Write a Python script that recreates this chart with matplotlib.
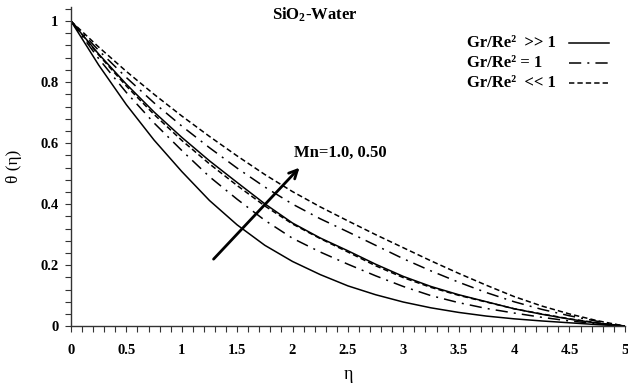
import numpy as np
import matplotlib
matplotlib.use('Agg')
import matplotlib.pyplot as plt
from matplotlib.lines import Line2D
from matplotlib.ticker import MultipleLocator

plt.rcParams['font.family'] = ['Liberation Serif', 'DejaVu Serif']
plt.rcParams['font.weight'] = 'bold'
plt.rcParams['mathtext.default'] = 'regular'

# values
eta = [0, 0.25, 0.5, 0.75, 1.0, 1.25, 1.5, 1.75, 2.0, 2.25, 2.5,
       2.75, 3.0, 3.25, 3.5, 3.75, 4.0, 4.25, 4.5, 4.75, 5.0]

# Gr/Re^2 >> 1 (solid)
solid_mn10 = [1.0, 0.856, 0.726, 0.610, 0.507, 0.412, 0.332, 0.265, 0.212, 0.169, 0.132,
              0.103, 0.079, 0.060, 0.045, 0.033, 0.024, 0.017, 0.011, 0.005, 0.0]
solid_mn05 = [1.0, 0.892, 0.793, 0.702, 0.619, 0.542, 0.471, 0.401, 0.338, 0.289, 0.247,
              0.203, 0.163, 0.130, 0.103, 0.080, 0.057, 0.039, 0.023, 0.010, 0.0]
# Gr/Re^2 = 1 (dash-dot)
dashdot_mn10 = [1.0, 0.877, 0.766, 0.666, 0.576, 0.490, 0.416, 0.347, 0.288, 0.243, 0.203,
                0.165, 0.130, 0.100, 0.077, 0.058, 0.043, 0.029, 0.017, 0.008, 0.0]
dashdot_mn05 = [1.0, 0.904, 0.815, 0.732, 0.656, 0.585, 0.518, 0.456, 0.400, 0.352, 0.309,
                0.265, 0.221, 0.181, 0.144, 0.110, 0.080, 0.055, 0.034, 0.016, 0.0]
# Gr/Re^2 << 1 (dashed)
dashed_mn10 = [1.0, 0.889, 0.787, 0.694, 0.609, 0.532, 0.461, 0.394, 0.335, 0.287, 0.243,
               0.198, 0.159, 0.127, 0.101, 0.079, 0.057, 0.040, 0.024, 0.011, 0.0]
dashed_mn05 = [1.0, 0.915, 0.835, 0.760, 0.689, 0.622, 0.558, 0.497, 0.441, 0.391, 0.345,
               0.300, 0.257, 0.214, 0.173, 0.134, 0.097, 0.066, 0.040, 0.018, 0.0]

dd = (0, (8, 4, 1.3, 4))
ds = (0, (3.5, 2))
lw = 1.1

fig = plt.figure(figsize=(6.28, 3.92), dpi=100)
ax = fig.add_axes([0.113, 0.168, 0.882, 0.814])

ax.plot(eta, solid_mn10, color='k', lw=lw)
ax.plot(eta, solid_mn05, color='k', lw=lw)
ax.plot(eta, dashdot_mn10, color='k', lw=lw, ls=dd)
ax.plot(eta, dashdot_mn05, color='k', lw=lw, ls=dd)
ax.plot(eta, dashed_mn10, color='k', lw=lw, ls=ds)
ax.plot(eta, dashed_mn05, color='k', lw=lw, ls=ds)

ax.set_xlim(0, 5)
ax.set_ylim(0, 1.046)
ax.spines['top'].set_visible(False)
ax.spines['right'].set_visible(False)
for s in ['left', 'bottom']:
    ax.spines[s].set_linewidth(1.0)
    ax.spines[s].set_color('#333333')

ax.xaxis.set_minor_locator(MultipleLocator(0.1))
ax.yaxis.set_minor_locator(MultipleLocator(0.04))
ax.set_xticks([0, 0.5, 1, 1.5, 2, 2.5, 3, 3.5, 4, 4.5, 5])
ax.set_xticklabels(['0', '0.5', '1', '1.5', '2', '2.5', '3', '3.5', '4', '4.5', '5'])
ax.set_yticks([0, 0.2, 0.4, 0.6, 0.8, 1.0])
ax.set_yticklabels(['0', '0.2', '0.4', '0.6', '0.8', '1'])
ax.tick_params(which='both', direction='out', length=4, width=0.8, color='#333333')
ax.tick_params(axis='x', labelsize=10.5, pad=9)
ax.tick_params(axis='y', labelsize=10.5, pad=5)

ax.set_xlabel('η', fontsize=13)
ax.set_ylabel('θ (η)', fontsize=12.5)
ax.xaxis.set_label_coords(0.5, -0.125)
ax.yaxis.set_label_coords(-0.088, 0.5)

ax.text(2.2, 1.02, 'SiO$_2$-Water', fontsize=12, ha='center', va='center')

ax.annotate('', xy=(2.08, 0.526), xytext=(1.27, 0.213),
            arrowprops=dict(arrowstyle='->,head_length=0.6,head_width=0.3', lw=2, color='k'))
ax.text(2.01, 0.567, 'Mn=1.0, 0.50', fontsize=12, va='center')

# key, laid out like the original: labels left-aligned, samples to the right
key_labels = ['Gr/Re²  >> 1', 'Gr/Re² = 1', 'Gr/Re²  << 1']
key_styles = ['-', dd, ds]
key_rows = [43, 63, 83]
for lab, st, row in zip(key_labels, key_styles, key_rows):
    yf = 1 - row / 392
    fig.text(467 / 628, yf, lab, fontsize=12, va='center', ha='left')
    fig.add_artist(Line2D([569 / 628, 609 / 628], [yf, yf], transform=fig.transFigure,
                          color='k', lw=lw, ls=st))

fig.savefig('out.png', dpi=100)
